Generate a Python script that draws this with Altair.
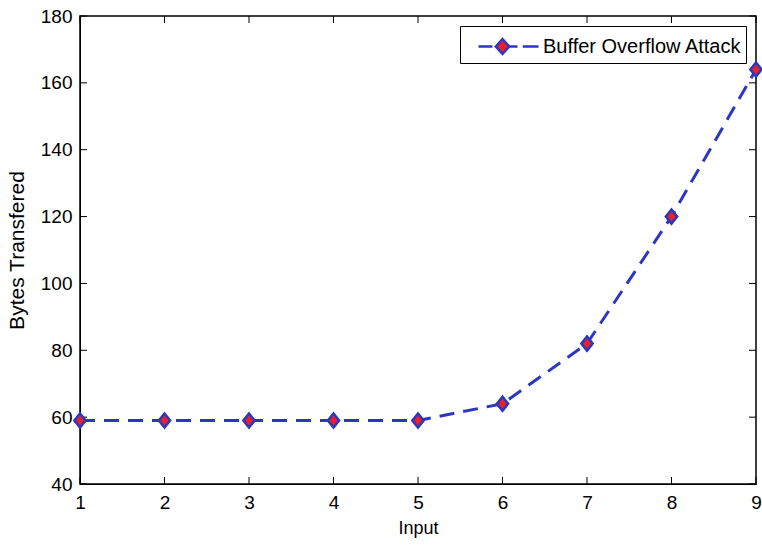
import altair as alt
import pandas as pd

# Data
inputs = [1, 2, 3, 4, 5, 6, 7, 8, 9]
bytes_transfered = [59, 59, 59, 59, 59, 64, 82, 120, 164]
series_name = "Buffer Overflow Attack"
x_ticks = [1, 2, 3, 4, 5, 6, 7, 8, 9]
y_ticks = [40, 60, 80, 100, 120, 140, 160, 180]

BLUE = "#2a38c0"
RED = "#e8202a"
W, H = 676, 468
FONT = "Liberation Sans"
TICK = 7

df = pd.DataFrame({"x": inputs, "y": bytes_transfered, "s": [series_name] * len(inputs)})
xt = pd.DataFrame({"x": x_ticks})
yt = pd.DataFrame({"y": y_ticks})

xscale = alt.Scale(domain=[1, 9], nice=False, zero=False)
yscale = alt.Scale(domain=[40, 180], nice=False, zero=False)

xaxis = alt.Axis(values=x_ticks, title="Input", grid=False, ticks=False, labelPadding=9,
                 labelFontSize=19, titleFontSize=18, labelFont=FONT, titleFont=FONT,
                 labelColor="black", titleColor="black", domainColor="black",
                 titleFontWeight="normal", titlePadding=7, labelFlush=False, format="d")
yaxis = alt.Axis(values=y_ticks, title="Bytes Transfered", grid=False, ticks=False, labelPadding=8,
                 labelFontSize=19, titleFontSize=21, labelFont=FONT, titleFont=FONT,
                 labelColor="black", titleColor="black", domainColor="black",
                 titleFontWeight="normal", titlePadding=13, labelFlush=False, format="d")

legend_symbol = ("M-1,0H-0.07 M1.05,0H1.6 M1.95,0H3 "
                 "M0.15,0L0.6,-0.5L1.05,0L0.6,0.5Z")

line = alt.Chart(df).mark_line(color=BLUE, strokeWidth=3, strokeDash=[15, 9]).encode(
    x=alt.X("x:Q", scale=xscale, axis=xaxis),
    y=alt.Y("y:Q", scale=yscale, axis=yaxis),
)

points = alt.Chart(df).mark_point(
    shape="M-0.8,0L0,-1L0.8,0L0,1Z", filled=True, size=200, stroke=BLUE, strokeWidth=2.5, opacity=1
).encode(
    x=alt.X("x:Q", scale=xscale),
    y=alt.Y("y:Q", scale=yscale),
    fill=alt.Fill("s:N", scale=alt.Scale(range=[RED]), legend=alt.Legend(
        title=None, orient="top-right", offset=10, padding=4,
        fillColor="white", strokeColor="black",
        symbolType=legend_symbol, symbolSize=900, symbolStrokeColor=BLUE,
        symbolStrokeWidth=2.5, symbolOffset=13, labelOffset=33,
        labelFontSize=20, labelFont=FONT, labelColor="black", labelLimit=400,
        labelExpr="datum.label + '\u00a0'",
    )),
)

bottom_ticks = alt.Chart(xt).mark_rule(color="black", strokeWidth=1).encode(
    x=alt.X("x:Q", scale=xscale), y=alt.value(H), y2=alt.value(H - TICK))
top_ticks = alt.Chart(xt).mark_rule(color="black", strokeWidth=1).encode(
    x=alt.X("x:Q", scale=xscale), y=alt.value(0), y2=alt.value(TICK))
left_ticks = alt.Chart(yt).mark_rule(color="black", strokeWidth=1).encode(
    y=alt.Y("y:Q", scale=yscale), x=alt.value(0), x2=alt.value(TICK))
right_ticks = alt.Chart(yt).mark_rule(color="black", strokeWidth=1).encode(
    y=alt.Y("y:Q", scale=yscale), x=alt.value(W), x2=alt.value(W - TICK))

chart = alt.layer(bottom_ticks, top_ticks, left_ticks, right_ticks, line, points).properties(
    width=W, height=H,
    autosize=alt.AutoSizeParams(type="none"),
    padding={"left": 80, "top": 16, "right": 6, "bottom": 63},
    background="white",
).configure_view(stroke="black", strokeWidth=1.5)

chart.save("out.html", embed_options={"renderer": "svg", "actions": False})
